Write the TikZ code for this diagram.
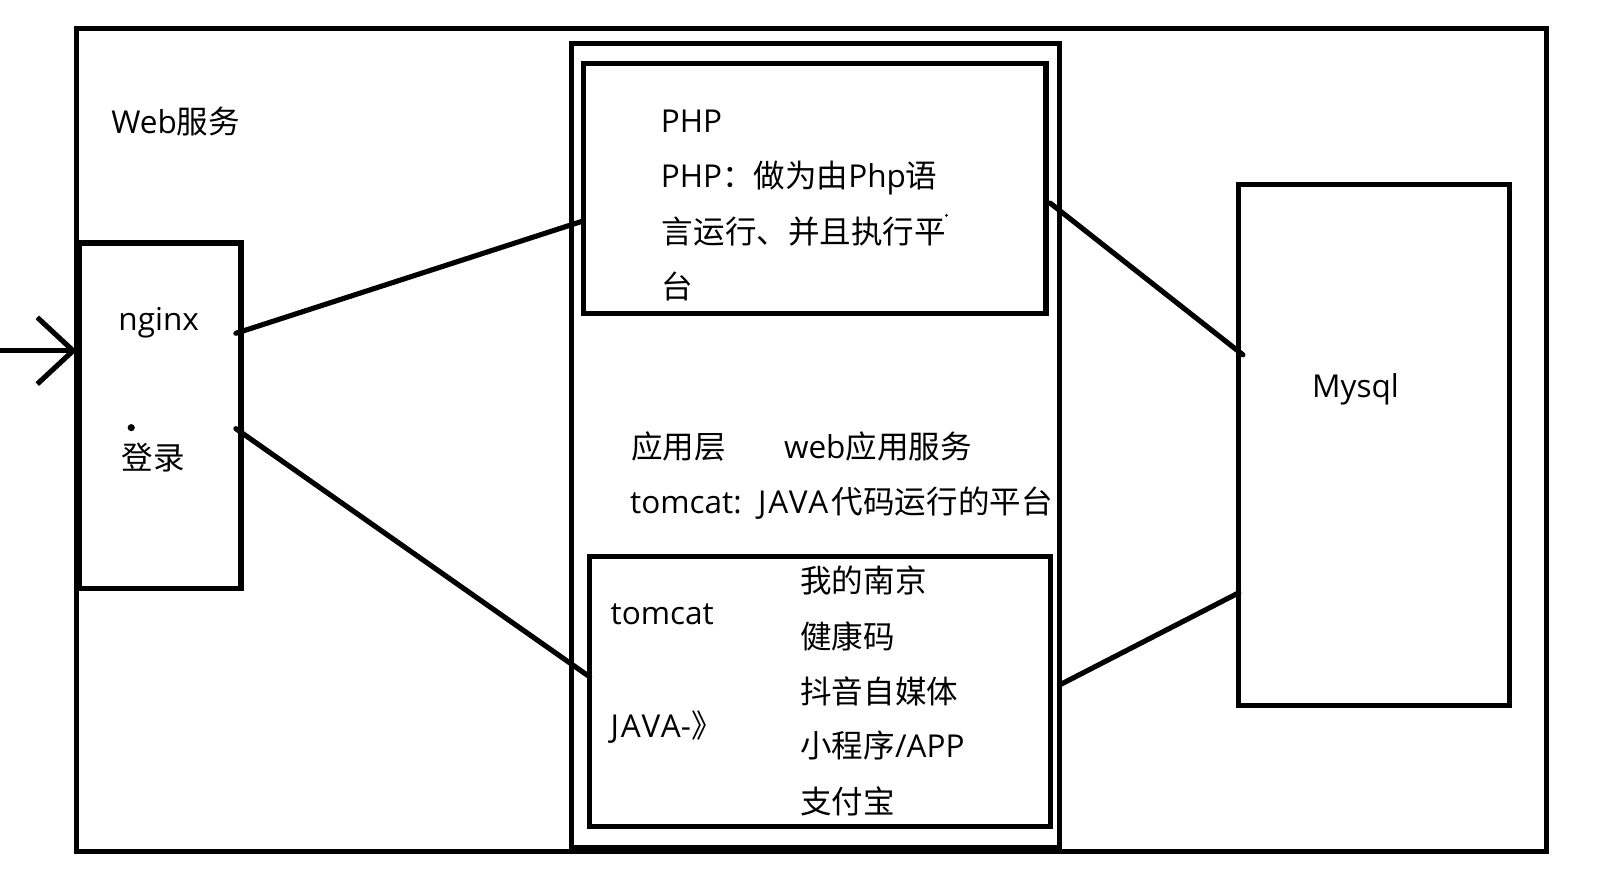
\documentclass[tikz,border=0pt]{standalone}
\usepackage{fontspec}
\setmainfont{Open Sans}
\newfontfamily\cjk{Noto Sans CJK SC}
\newcommand{\zh}[1]{{\cjk #1}}
\usetikzlibrary{fit,calc,arrows.meta}
\begin{document}
\begin{tikzpicture}[x=0.02cm, y=-0.02cm, line width=0.1cm,
  box/.style={draw, inner sep=0pt, outer sep=0pt},
  txt/.style={anchor=base west, inner sep=0pt, font=\fontsize{17.5}{21}\selectfont},
  conn/.style={line cap=round},
  speck/.style={fill=black, draw=none}]
\useasboundingbox (0,0) rectangle (1568,865);

% boxes
\node[box, fit={(75,28) (1508,830)}] (web) {};
\node[box, fit={(77,237) (235,574)}] (nginx) {};
\node[box, fit={(557,42) (1033,826)}] (app) {};
\node[box, fit={(569,62) (1020,306)}] (php) {};
\node[box, fit={(575,543) (1024,806)}] (tomcatbox) {};
\node[box, fit={(1208,180) (1472,688)}] (mysql) {};

% texts
\node[txt] (tweb) at (106,130) {Web\zh{服务}};
\node[txt] (tnginx) at (113,322) {nginx};
\node[txt] (tlogin) at (116,458) {\zh{登录}};
\node[txt] (tphp1) at (642,129) {PHP};
\node[txt] (tphp2) at (642,183) {PHP\zh{：做为由}Php\zh{语}};
\node[txt] (tphp3) at (643,237) {\zh{言运行、并且执行平}};
\node[txt] (tphp4) at (643,291) {\zh{台}};
\node[txt] (tlayer) at (613,447) {\zh{应用层}};
\node[txt] (twebapp) at (762,447) {web\zh{应用服务}};
\node[txt] (ttomcat) at (612,501) {tomcat:\hspace{3pt} {\addfontfeature{LetterSpace=6}JAVA}\hspace{2pt}\zh{代码运行的平台}};
\node[txt] (tt2) at (593,609) {tomcat};
\node[txt] (tjava) at (593,719) {{\addfontfeature{LetterSpace=6}JAVA}-\zh{》}};
\node[txt] (l1) at (778,578) {\zh{我的南京}};
\node[txt] (l2) at (778,632) {\zh{健康码}};
\node[txt] (l3) at (778,686) {\zh{抖音自媒体}};
\node[txt] (l4) at (778,739) {\zh{小程序}/APP};
\node[txt] (l5) at (778,793) {\zh{支付宝}};
\node[txt] (tmysql) at (1277,388) {Mysql};

% specks
\fill[speck] (128,417) circle (3.5);
\fill[speck] (923,210) circle (1.5);

% incoming arrow
\coordinate (in) at (0,342);
\draw[-{Straight Barb[length=0.7cm,width=1.3cm]}] (in) -- (web.west |- in);

% connectors
\draw[conn] ($(nginx.north east)+(-5,88)$) -- ($(php.north west)+(-2,154)$);
\draw[conn] ($(nginx.north east)+(-5,181)$) -- ($(tomcatbox.north west)+(0,117)$);
\draw[conn] ($(php.north east)+(4,136)$) -- ($(mysql.north west)+(4,166)$);
\draw[conn] ($(app.north east)+(0,626)$) -- ($(mysql.north west)+(0,398)$);
\end{tikzpicture}
\end{document}
